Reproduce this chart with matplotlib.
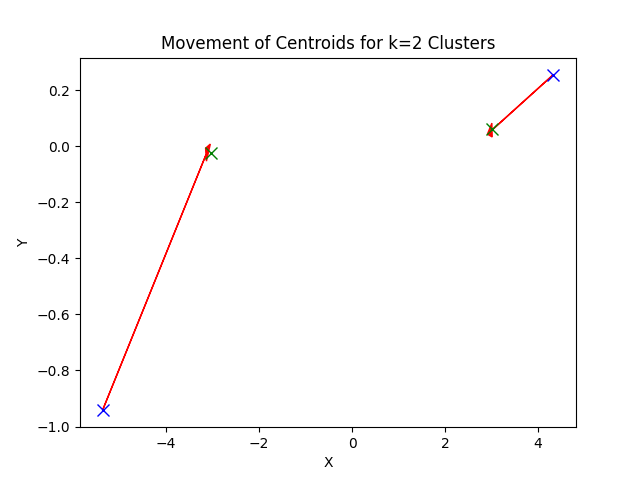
import numpy as np
import matplotlib
matplotlib.use('Agg')
import matplotlib.pyplot as plt

# centroid positions
initial_x = [-5.365, 4.332]
initial_y = [-0.942, 0.256]
final_x = [-3.032, 3.011]
final_y = [-0.0225, 0.062]
# where the red arrows stop (left one stops a bit short of the green mark)
arrow_end_x = [-3.14, 3.011]
arrow_end_y = [-0.03, 0.058]

fig, ax = plt.subplots(figsize=(6.4, 4.8), dpi=100)

# arrows from start to end position
for x0, y0, x1, y1 in zip(initial_x, initial_y, arrow_end_x, arrow_end_y):
    ax.arrow(x0, y0, x1 - x0, y1 - y0, head_width=0.05, head_length=0.1,
             fc='red', ec='red')

ax.plot(initial_x, initial_y, 'bx', markersize=9, linestyle='none')
ax.plot(final_x, final_y, 'gx', markersize=9, linestyle='none')

ax.set_title('Movement of Centroids for k=2 Clusters')
ax.set_xlabel('X')
ax.set_ylabel('Y')

fig.savefig('out.png')
